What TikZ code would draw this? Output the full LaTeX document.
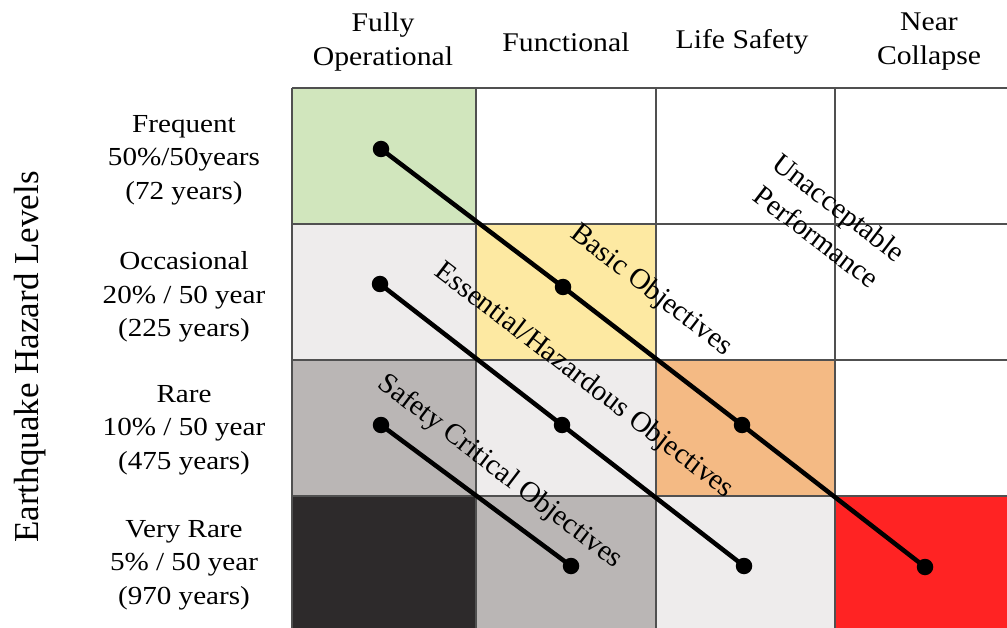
\documentclass[tikz,border=0pt]{standalone}
\usepackage{fontspec}
\setmainfont{Liberation Serif}
\definecolor{cgreen}{RGB}{209,230,189}
\definecolor{clight}{RGB}{238,236,236}
\definecolor{cyellow}{RGB}{253,233,162}
\definecolor{cgray}{RGB}{186,182,181}
\definecolor{corange}{RGB}{244,186,132}
\definecolor{cdark}{RGB}{45,42,43}
\definecolor{cred}{RGB}{255,35,35}
\definecolor{cgrid}{RGB}{80,80,80}
\begin{document}
\begin{tikzpicture}[x=1pt,y=-1pt,
  gridline/.style={draw=cgrid,line width=1.8pt},
  dot/.style={circle,fill=black,inner sep=0pt,minimum size=16.5pt},
  objline/.style={line width=4.5pt,black},
  header/.style={align=center,font=\fontsize{27}{34}\selectfont,xscale=1.1},
  rowlabel/.style={align=center,font=\fontsize{26}{33.5}\selectfont,xscale=1.12},
  objlabel/.style={align=center,font=\fontsize{29}{37}\selectfont,rotate=-37.5,inner sep=0pt},
  axislabel/.style={font=\fontsize{35}{40}\selectfont,rotate=90,inner sep=0pt}]
\useasboundingbox (0,0) rectangle (1007,628);
\clip (0,0) rectangle (1007,628);
\fill[white] (0,0) rectangle (1007,628);

% cell fills: columns at 292/476/656/835, rows at 88/224/360/496
\fill[cgreen]  (292,88)  rectangle (476,224);
\fill[clight]  (292,224) rectangle (476,360);
\fill[cyellow] (476,224) rectangle (656,360);
\fill[cgray]   (292,360) rectangle (476,496);
\fill[clight]  (476,360) rectangle (656,496);
\fill[corange] (656,360) rectangle (835,496);
\fill[cdark]   (292,496) rectangle (476,640);
\fill[cgray]   (476,496) rectangle (656,640);
\fill[clight]  (656,496) rectangle (835,640);
\fill[cred]    (835,496) rectangle (1020,640);

% grid lines
\foreach \gx in {292,476,656,835} \draw[gridline] (\gx,88) -- (\gx,640);
\foreach \gy in {88,224,360,496} \draw[gridline] (292,\gy) -- (1020,\gy);

% objective points
\node[dot] (a1) at (381,149) {};
\node[dot] (a2) at (563,287) {};
\node[dot] (a3) at (742,425) {};
\node[dot] (a4) at (925,567) {};
\node[dot] (b1) at (380,284) {};
\node[dot] (b2) at (562,425) {};
\node[dot] (b3) at (744,566) {};
\node[dot] (c1) at (381,425) {};
\node[dot] (c2) at (571,566) {};

% objective lines
\draw[objline] (a1.center) -- (a2.center) -- (a3.center) -- (a4.center);
\draw[objline] (b1.center) -- (b2.center) -- (b3.center);
\draw[objline] (c1.center) -- (c2.center);

% objective labels
\node[objlabel] (basic) at (651,291) {Basic Objectives};
\node[objlabel] (essential) at (584,381) {Essential/Hazardous Objectives};
\node[objlabel] (safety) at (500,472) {Safety Critical Objectives};
\node[objlabel] (unacc) at (828,222) {Unacceptable\\Performance};

% performance level headers
\node[header] (h1) at (383,42) {Fully\\Operational};
\node[header] (h2) at (566,42) {Functional};
\node[header] (h3) at (742,42) {Life Safety};
\node[header] (h4) at (929,42) {Near\\Collapse};

% hazard level labels
\node[rowlabel] (r1) at (184,160) {Frequent\\50\%/50years\\(72 years)};
\node[rowlabel] (r2) at (184,297) {Occasional\\20\% / 50 year\\(225 years)};
\node[rowlabel] (r3) at (184,430) {Rare\\10\% / 50 year\\(475 years)};
\node[rowlabel] (r4) at (184,565) {Very Rare\\5\% / 50 year\\(970 years)};

\node[axislabel] (axis) at (30,357) {Earthquake Hazard Levels};
\end{tikzpicture}
\end{document}
